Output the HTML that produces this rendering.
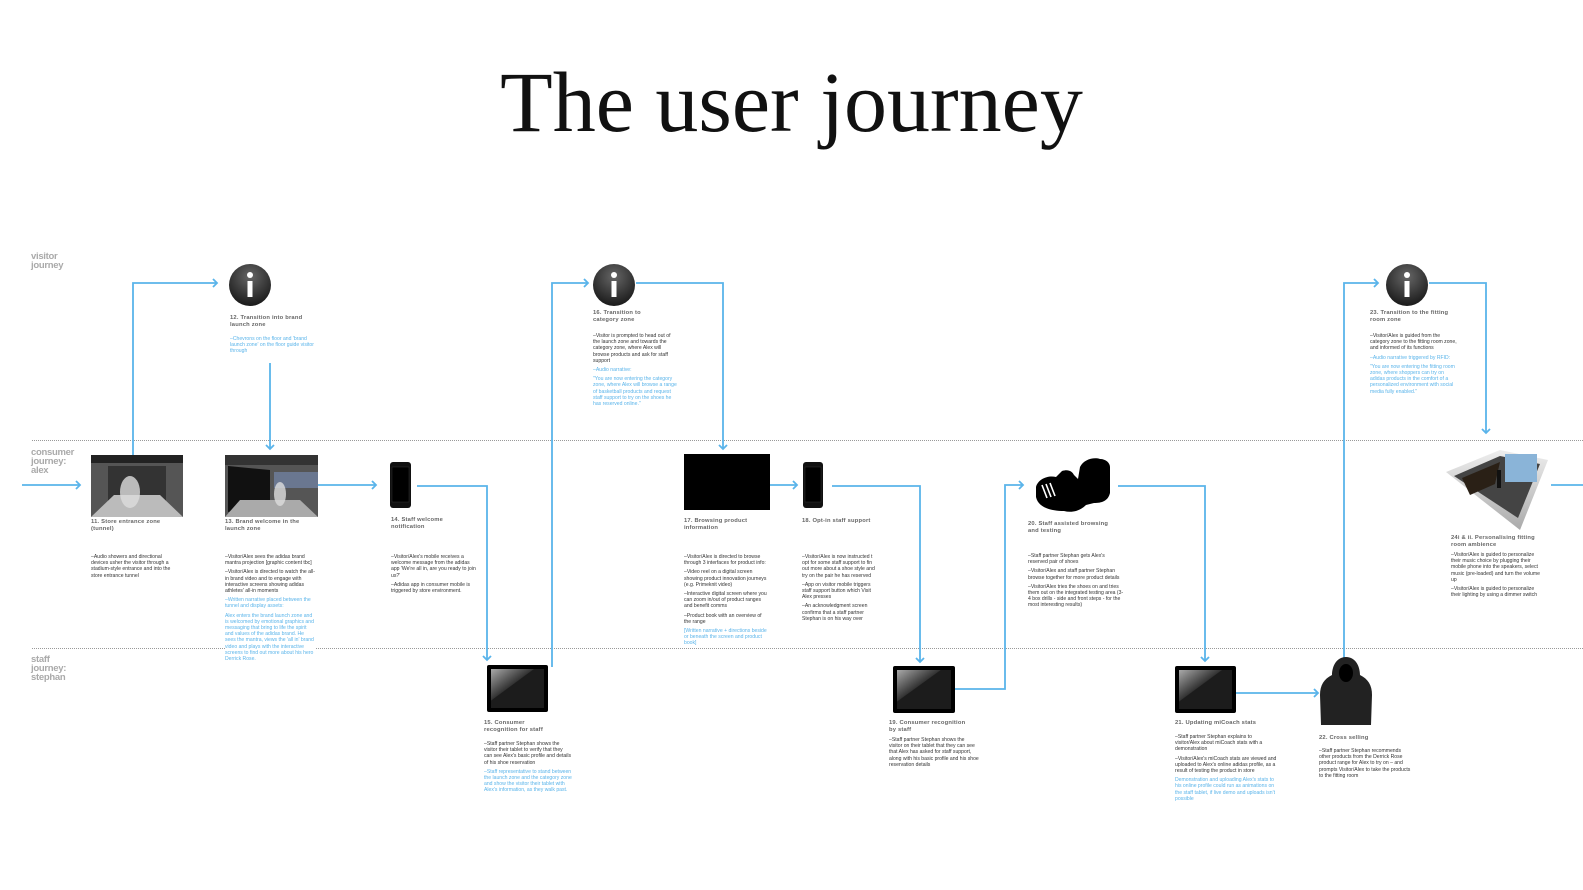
<!DOCTYPE html>
<html><head><meta charset="utf-8"><style>
body{margin:0;width:1583px;height:890px;background:#fff;position:relative;overflow:hidden;font-family:"Liberation Sans",sans-serif}
.a{position:absolute}
.t{position:absolute;font-size:5.8px;line-height:7px;font-weight:bold;color:#666;letter-spacing:.2px}
.b{position:absolute;font-size:5.1px;line-height:6.2px;color:#333}
.b p{margin:0 0 3px 0}
.bl{color:#5ab4ea}
.lane{position:absolute;font-size:9.5px;line-height:9px;font-weight:bold;color:#aaa;letter-spacing:-.3px}
.dot{position:absolute;left:32px;width:1551px;border-top:1px dotted #999}
</style></head><body>
<div class="a" style="left:0;width:1583px;top:54px;text-align:center;font-family:'Liberation Serif',serif;font-size:86px;color:#111;line-height:96px;padding-left:0px">The user journey</div>

<div class="dot" style="top:440px"></div>
<div class="dot" style="top:648px"></div>
<div class="lane" style="left:31px;top:252px">visitor<br>journey</div>
<div class="lane" style="left:31px;top:448px">consumer<br>journey:<br>alex</div>
<div class="lane" style="left:31px;top:655px">staff<br>journey:<br>stephan</div>

<svg class="a" style="left:0;top:0" width="1583" height="890">
<defs>
<radialGradient id="ig" cx="50%" cy="30%" r="70%"><stop offset="0" stop-color="#666"/><stop offset="1" stop-color="#1a1a1a"/></radialGradient>
<linearGradient id="tg" x1="0" y1="0" x2="1" y2="1"><stop offset="0" stop-color="#aaa"/><stop offset=".4" stop-color="#333"/><stop offset=".41" stop-color="#1c1c1c"/></linearGradient>
<linearGradient id="rg" x1="0" y1="0" x2="0" y2="1"><stop offset="0" stop-color="#eee"/><stop offset="1" stop-color="#aaa"/></linearGradient>
</defs>
<g fill="none" stroke="#5ab4ea" stroke-width="1.8">
<path d="M22 485H80"/><path d="M76 481l4 4-4 4"/>
<path d="M133 456V283H217"/><path d="M213 279l4 4-4 4"/>
<path d="M270 363V449"/><path d="M266 445l4 4 4-4"/>
<path d="M318 485H376"/><path d="M372 481l4 4-4 4"/>
<path d="M417 486H487V660"/><path d="M483 656l4 4 4-4"/>
<path d="M552 667V283H588"/><path d="M584 279l4 4-4 4"/>
<path d="M636 283H723V449"/><path d="M719 445l4 4 4-4"/>
<path d="M770 485H797"/><path d="M793 481l4 4-4 4"/>
<path d="M832 486H920V662"/><path d="M916 658l4 4 4-4"/>
<path d="M955 689H1005V485H1023"/><path d="M1019 481l4 4-4 4"/>
<path d="M1118 486H1205V661"/><path d="M1201 657l4 4 4-4"/>
<path d="M1236 693H1318"/><path d="M1314 689l4 4-4 4"/>
<path d="M1344 662V283H1378"/><path d="M1374 279l4 4-4 4"/>
<path d="M1429 283H1486V433"/><path d="M1482 429l4 4 4-4"/>
<path d="M1551 485H1583"/>
</g>
<g><circle cx="250" cy="285" r="21" fill="url(#ig)"/><rect x="247.5" y="281" width="5" height="16" fill="#fff"/><circle cx="250" cy="275" r="3" fill="#fff"/></g>
<g><circle cx="614" cy="285" r="21" fill="url(#ig)"/><rect x="611.5" y="281" width="5" height="16" fill="#fff"/><circle cx="614" cy="275" r="3" fill="#fff"/></g>
<g><circle cx="1407" cy="285" r="21" fill="url(#ig)"/><rect x="1404.5" y="281" width="5" height="16" fill="#fff"/><circle cx="1407" cy="275" r="3" fill="#fff"/></g>
<rect x="91" y="455" width="92" height="62" fill="#555"/><rect x="91" y="455" width="92" height="8" fill="#222"/><rect x="108" y="466" width="58" height="36" fill="#333"/><polygon points="91,517 183,517 160,495 114,495" fill="#bbb"/><ellipse cx="130" cy="492" rx="10" ry="16" fill="#ddd" opacity=".8"/>
<rect x="225" y="455" width="93" height="62" fill="#555"/><rect x="225" y="455" width="93" height="10" fill="#333"/><polygon points="228,466 270,470 270,505 228,512" fill="#111"/><rect x="274" y="472" width="44" height="16" fill="#6a7790"/><polygon points="225,517 318,517 300,500 240,500" fill="#aaa"/><ellipse cx="280" cy="494" rx="6" ry="12" fill="#ddd" opacity=".8"/>
<rect x="390" y="462" width="21" height="46" rx="3" fill="#111"/><rect x="392" y="467" width="17" height="35" fill="#000" stroke="#333" stroke-width=".5"/>
<rect x="803" y="462" width="20" height="46" rx="3" fill="#111"/><rect x="805" y="467" width="16" height="35" fill="#000" stroke="#333" stroke-width=".5"/>
<rect x="684" y="454" width="86" height="56" fill="#000"/>
<rect x="487" y="665" width="61" height="47" rx="2" fill="#000"/><rect x="491" y="669" width="53" height="39" fill="url(#tg)"/>
<rect x="893" y="666" width="62" height="47" rx="2" fill="#000"/><rect x="897" y="670" width="54" height="39" fill="url(#tg)"/>
<rect x="1175" y="666" width="61" height="47" rx="2" fill="#000"/><rect x="1179" y="670" width="53" height="39" fill="url(#tg)"/>
<!-- shoes -->
<path d="M1036 487c2-8 12-12 20-10l6-6c6-2 10 0 12 4l4 4 2-12c4-8 14-10 20-8 6 0 10 4 10 8v26c-2 8-8 10-16 10l-8 2c-6 6-14 8-22 6-14 0-26-4-28-14z" fill="#000"/>
<g stroke="#fff" stroke-width="1.6"><path d="M1042 485l5 13M1046 484l5 13M1050 483l5 13"/></g>
<!-- hoodie -->
<path d="M1346 657c-10 0-14 10-14 18-8 4-12 10-12 20l1 30h50l1-30c0-10-4-16-12-20 0-8-4-18-14-18z" fill="#222"/><ellipse cx="1346" cy="673" rx="7" ry="9" fill="#000"/>
<!-- room 24 -->
<polygon points="1446,472 1500,450 1548,460 1520,530" fill="url(#rg)"/>
<polygon points="1454,476 1500,456 1540,464 1518,518" fill="#444"/>
<polygon points="1462,478 1500,462 1495,484 1470,495" fill="#2a2016"/>
<rect x="1505" y="454" width="32" height="28" fill="#8ab4d8"/>
<rect x="1497" y="470" width="4" height="18" fill="#111"/>
</svg>

<div class="t" style="left:91px;top:519px">11. Store entrance zone<br>(tunnel)</div>
<div class="b" style="left:91px;top:554px;width:86px"><p>–Audio showers and directional devices usher the visitor through a stadium-style entrance and into the store entrance tunnel</p></div>

<div class="t" style="left:230px;top:315px">12. Transition into brand<br>launch zone</div>
<div class="b bl" style="left:230px;top:336px;width:86px"><p>–Chevrons on the floor and 'brand launch zone' on the floor guide visitor through</p></div>

<div class="t" style="left:225px;top:519px">13. Brand welcome in the<br>launch zone</div>
<div class="b" style="left:225px;top:554px;width:90px"><p>–Visitor/Alex sees the adidas brand mantra projection [graphic content tbc]</p><p>–Visitor/Alex is directed to watch the all-in brand video and to engage with interactive screens showing adidas athletes' all-in moments</p><p class="bl">–Written narrative placed between the tunnel and display assets:</p><p class="bl" style="background:#fff">Alex enters the brand launch zone and is welcomed by emotional graphics and messaging that bring to life the spirit and values of the adidas brand. He sees the mantra, views the 'all in' brand video and plays with the interactive screens to find out more about his hero Derrick Rose.</p></div>

<div class="t" style="left:391px;top:517px">14. Staff welcome<br>notification</div>
<div class="b" style="left:391px;top:554px;width:86px"><p>–Visitor/Alex's mobile receives a welcome message from the adidas app 'We're all in, are you ready to join us?'</p><p>–Adidas app in consumer mobile is triggered by store environment.</p></div>

<div class="t" style="left:484px;top:720px">15. Consumer<br>recognition for staff</div>
<div class="b" style="left:484px;top:741px;width:88px"><p>–Staff partner Stephan shows the visitor their tablet to verify that they can see Alex's basic profile and details of his shoe reservation</p><p class="bl">–Staff representative to stand between the launch zone and the category zone and show the visitor their tablet with Alex's information, as they walk past.</p></div>

<div class="t" style="left:593px;top:310px">16. Transition to<br>category zone</div>
<div class="b" style="left:593px;top:333px;width:84px"><p>–Visitor is prompted to head out of the launch zone and towards the category zone, where Alex will browse products and ask for staff support</p><p class="bl">–Audio narrative:</p><p class="bl">"You are now entering the category zone, where Alex will browse a range of basketball products and request staff support to try on the shoes he has reserved online."</p></div>

<div class="t" style="left:684px;top:518px">17. Browsing product<br>information</div>
<div class="b" style="left:684px;top:554px;width:86px"><p>–Visitor/Alex is directed to browse through 3 interfaces for product info:</p><p>–Video reel on a digital screen showing product innovation journeys (e.g. Primeknit video)</p><p>–Interactive digital screen where you can zoom in/out of product ranges and benefit comms</p><p>–Product book with an overview of the range</p><p class="bl" style="background:#fff">[Written narrative + directions beside or beneath the screen and product book]</p></div>

<div class="t" style="left:802px;top:518px">18. Opt-in staff support</div>
<div class="b" style="left:802px;top:554px;width:78px;overflow:hidden;white-space:nowrap"><p>–Visitor/Alex is now instructed t<br>opt for some staff support to fin<br>out more about a shoe style and<br>try on the pair he has reserved</p><p>–App on visitor mobile triggers<br>staff support button which Visit<br>Alex presses</p><p>–An acknowledgment screen<br>confirms that a staff partner<br>Stephan is on his way over</p></div>

<div class="t" style="left:889px;top:720px">19. Consumer recognition<br>by staff</div>
<div class="b" style="left:889px;top:737px;width:90px"><p>–Staff partner Stephan shows the visitor on their tablet that they can see that Alex has asked for staff support, along with his basic profile and his shoe reservation details</p></div>

<div class="t" style="left:1028px;top:521px">20. Staff assisted browsing<br>and testing</div>
<div class="b" style="left:1028px;top:553px;width:96px"><p>–Staff partner Stephan gets Alex's reserved pair of shoes</p><p>–Visitor/Alex and staff partner Stephan browse together for more product details</p><p>–Visitor/Alex tries the shoes on and tries them out on the integrated testing area (3-4 box drills - side and front steps - for the most interesting results)</p></div>

<div class="t" style="left:1175px;top:720px">21. Updating miCoach stats</div>
<div class="b" style="left:1175px;top:734px;width:102px"><p>–Staff partner Stephan explains to visitor/Alex about miCoach stats with a demonstration</p><p>–Visitor/Alex's miCoach stats are viewed and uploaded to Alex's online adidas profile, as a result of testing the product in store</p><p class="bl">Demonstration and uploading Alex's stats to his online profile could run as animations on the staff tablet, if live demo and uploads isn't possible</p></div>

<div class="t" style="left:1319px;top:735px">22. Cross selling</div>
<div class="b" style="left:1319px;top:748px;width:92px"><p>–Staff partner Stephan recommends other products from the Derrick Rose product range for Alex to try on – and prompts Visitor/Alex to take the products to the fitting room</p></div>

<div class="t" style="left:1370px;top:310px">23. Transition to the fitting<br>room zone</div>
<div class="b" style="left:1370px;top:333px;width:90px"><p>–Visitor/Alex is guided from the category zone to the fitting room zone, and informed of its functions</p><p class="bl">–Audio narrative triggered by RFID:</p><p class="bl">"You are now entering the fitting room zone, where shoppers can try on adidas products in the comfort of a personalized environment with social media fully enabled."</p></div>

<div class="t" style="left:1451px;top:535px">24i &amp; ii. Personalising fitting<br>room ambience</div>
<div class="b" style="left:1451px;top:552px;width:94px"><p>–Visitor/Alex is guided to personalize their music choice by plugging their mobile phone into the speakers, select music (pre-loaded) and turn the volume up</p><p>–Visitor/Alex is guided to personalize their lighting by using a dimmer switch</p></div>
</body></html>
